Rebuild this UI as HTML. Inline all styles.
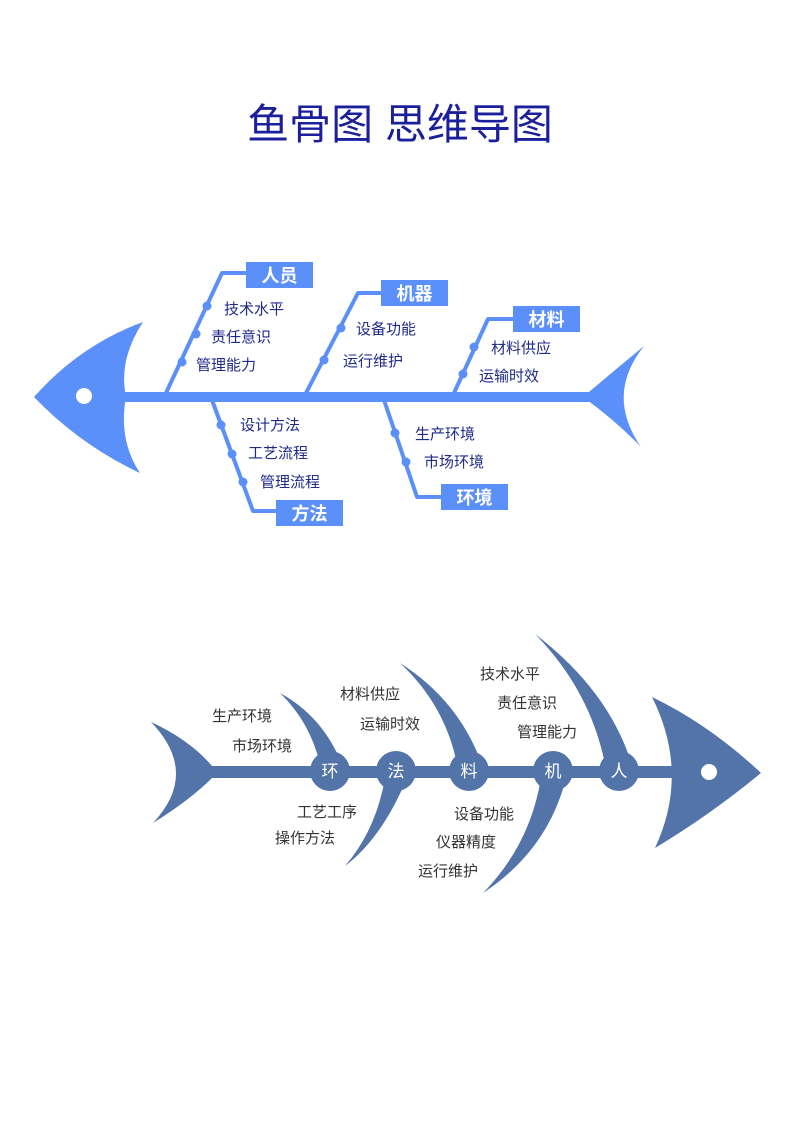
<!DOCTYPE html>
<html><head><meta charset="utf-8"><style>
html,body{margin:0;padding:0;background:#fff;}
svg{display:block;}
text{font-family:"Liberation Sans","Noto Sans CJK SC",sans-serif;}
</style></head><body>
<svg width="800" height="1131" viewBox="0 0 800 1131" xmlns="http://www.w3.org/2000/svg">
<rect width="800" height="1131" fill="#fff"/>
<text x="400" y="139" text-anchor="middle" font-size="42" fill="#1c1f9a">鱼骨图 思维导图</text>

<!-- Fish 1 -->
<g fill="#5b8ff9" stroke="none">
  <path d="M34,397 Q80,345 143,322 Q118,360 126,397 Q118,440 140,473 Q80,445 34,397 Z"/>
  <rect x="120" y="392" width="470" height="10"/>
  <path d="M583,397 Q615,370 644,346 Q605,395 641,447 Q615,420 583,397 Z"/>
</g>
<circle cx="84" cy="396" r="8" fill="#fff"/>
<g stroke="#5b8ff9" stroke-width="4" fill="none" stroke-linejoin="round">
  <polyline points="166,393 222,273 246,273"/>
  <polyline points="306,393 358,293 381,293"/>
  <polyline points="454,393 488,319 513,319"/>
  <polyline points="212,400 253,511 276,511"/>
  <polyline points="384,400 417,497 441,497"/>
</g>
<g fill="#5b8ff9">
  <circle cx="207" cy="306" r="4.5"/><circle cx="196" cy="334" r="4.5"/><circle cx="182" cy="362" r="4.5"/>
  <circle cx="341" cy="328" r="4.5"/><circle cx="324" cy="360" r="4.5"/>
  <circle cx="474" cy="347" r="4.5"/><circle cx="463" cy="374" r="4.5"/>
  <circle cx="221" cy="425" r="4.5"/><circle cx="232" cy="454" r="4.5"/><circle cx="243" cy="482" r="4.5"/>
  <circle cx="395" cy="433" r="4.5"/><circle cx="406" cy="462" r="4.5"/>
  <rect x="246" y="262" width="67" height="26"/>
  <rect x="381" y="280" width="67" height="26"/>
  <rect x="513" y="306" width="67" height="26"/>
  <rect x="276" y="500" width="67" height="26"/>
  <rect x="441" y="484" width="67" height="26"/>
</g>
<g fill="#fff" font-size="18" font-weight="bold" text-anchor="middle">
  <text x="279.5" y="282">人员</text>
  <text x="414.5" y="300">机器</text>
  <text x="546.5" y="326">材料</text>
  <text x="309.5" y="520">方法</text>
  <text x="474.5" y="504">环境</text>
</g>
<g fill="#1f2a8a" font-size="15">
  <text x="224" y="314">技术水平</text>
  <text x="211" y="342">责任意识</text>
  <text x="196" y="370">管理能力</text>
  <text x="356" y="334">设备功能</text>
  <text x="343" y="366">运行维护</text>
  <text x="491" y="353">材料供应</text>
  <text x="479" y="381">运输时效</text>
  <text x="240" y="430">设计方法</text>
  <text x="248" y="458">工艺流程</text>
  <text x="260" y="487">管理流程</text>
  <text x="415" y="439">生产环境</text>
  <text x="424" y="467">市场环境</text>
</g>

<!-- Fish 2 -->
<g fill="#5274a9">
  <path d="M151,722 Q190,740 212,766 L212,778 Q190,800 153,823 Q200,773 151,722 Z"/>
  <rect x="205" y="766" width="470" height="12"/>
  <path d="M652,697 Q710,725 761,773 Q710,815 655,848 Q690,773 652,697 Z"/>
  <path d="M280,693 Q322,716 341,762 L320,764 Q310,722 280,693 Z"/>
  <path d="M400,663 Q458,700 481,762 L457,764 Q445,705 400,663 Z"/>
  <path d="M535,634 Q608,690 631,762 L605,764 Q590,690 535,634 Z"/>
  <path d="M345,866 Q382,838 407,778 L385,778 Q376,830 345,866 Z"/>
  <path d="M483,893 Q548,850 566,778 L541,778 Q530,845 483,893 Z"/>
  <circle cx="330" cy="771" r="20"/>
  <circle cx="396" cy="771" r="20"/>
  <circle cx="469" cy="771" r="20"/>
  <circle cx="553" cy="771" r="20"/>
  <circle cx="619" cy="771" r="20"/>
</g>
<circle cx="709" cy="772" r="8" fill="#fff"/>
<g fill="#fff" font-size="17" text-anchor="middle">
  <text x="330" y="777">环</text>
  <text x="396" y="777">法</text>
  <text x="469" y="777">料</text>
  <text x="553" y="777">机</text>
  <text x="619" y="777">人</text>
</g>
<g fill="#333" font-size="15">
  <text x="212" y="721">生产环境</text>
  <text x="232" y="751">市场环境</text>
  <text x="340" y="699">材料供应</text>
  <text x="360" y="729">运输时效</text>
  <text x="480" y="679">技术水平</text>
  <text x="497" y="708">责任意识</text>
  <text x="517" y="737">管理能力</text>
  <text x="297" y="817">工艺工序</text>
  <text x="275" y="843">操作方法</text>
  <text x="454" y="819">设备功能</text>
  <text x="436" y="847">仪器精度</text>
  <text x="418" y="876">运行维护</text>
</g>
</svg>
</body></html>
